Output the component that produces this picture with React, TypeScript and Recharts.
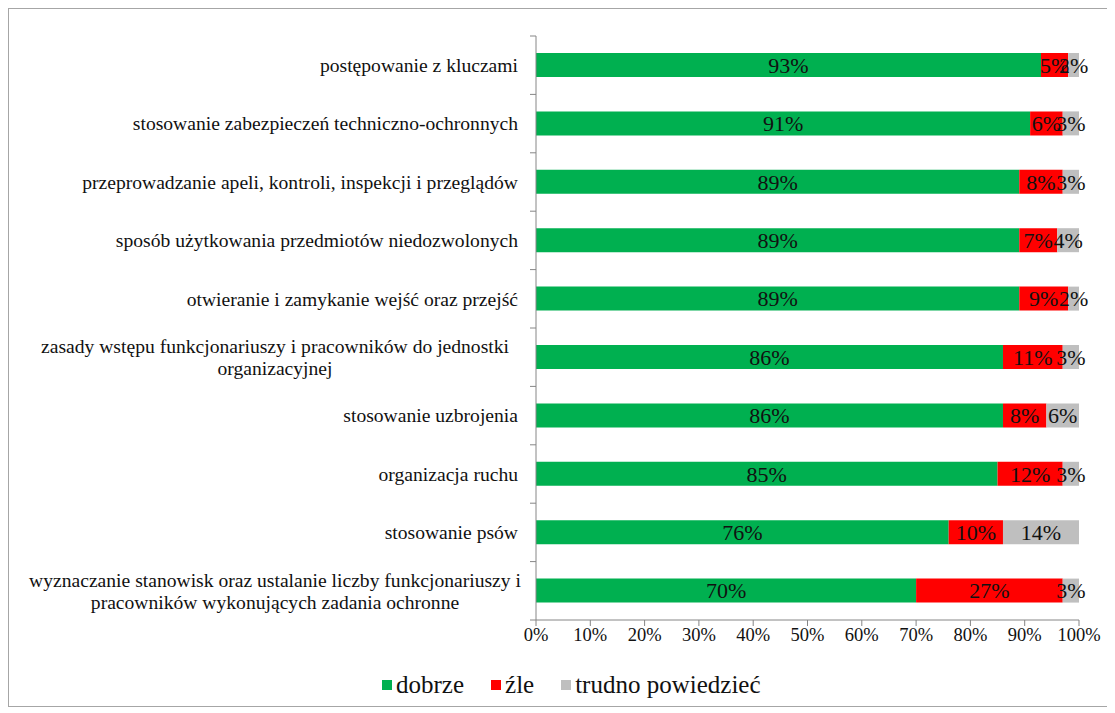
import { BarChart, Bar, XAxis, YAxis, Legend, LabelList } from "recharts";

// categories top -> bottom, multi-line labels split on "\n"
const categories = [
  "postępowanie z kluczami",
  "stosowanie zabezpieczeń techniczno-ochronnych",
  "przeprowadzanie apeli, kontroli, inspekcji i przeglądów",
  "sposób użytkowania przedmiotów niedozwolonych",
  "otwieranie i zamykanie wejść oraz przejść",
  "zasady wstępu funkcjonariuszy i pracowników do jednostki\norganizacyjnej",
  "stosowanie uzbrojenia",
  "organizacja ruchu",
  "stosowanie psów",
  "wyznaczanie stanowisk oraz ustalanie liczby funkcjonariuszy i\npracowników wykonujących zadania ochronne",
];

const dobrze = [93, 91, 89, 89, 89, 86, 86, 85, 76, 70];
const zle = [5, 6, 8, 7, 9, 11, 8, 12, 10, 27];
const trudno = [2, 3, 3, 4, 2, 3, 6, 3, 14, 3];

const seriesNames = ["dobrze", "źle", "trudno powiedzieć"];
const seriesKeys = ["dobrze", "zle", "trudno"];
const colors = ["#00B050", "#FF0000", "#BFBFBF"];

const xTicks = [0, 10, 20, 30, 40, 50, 60, 70, 80, 90, 100];

const data = categories.map((name, i) => ({
  name,
  dobrze: dobrze[i],
  zle: zle[i],
  trudno: trudno[i],
}));

const FONT = "Liberation Serif";
const AXIS = "#868686";
const W = 1100;
const H = 697;
const MARGIN = { top: 27, right: 30, left: 0, bottom: 7 };
const X_AXIS_H = 51;
const LEGEND_H = 28;
const PLOT_H = H - MARGIN.top - MARGIN.bottom - X_AXIS_H - LEGEND_H;
const BAND = PLOT_H / categories.length;
const CAT_FS = 19.6;

/* eslint-disable @typescript-eslint/no-explicit-any */
function CategoryTick({ x, y, payload, index }: any) {
  const lines: string[] = String(payload.value).split("\n");
  const axisX = x + 18;
  const multi = lines.length > 1;
  const lh = 22;
  const tx = multi ? x - 243 : x;
  return (
    <g>
      <line x1={axisX - 6} x2={axisX} y1={y - BAND / 2} y2={y - BAND / 2} stroke={AXIS} />
      {index === categories.length - 1 && (
        <line x1={axisX - 6} x2={axisX} y1={y + BAND / 2} y2={y + BAND / 2} stroke={AXIS} />
      )}
      <text
        x={tx}
        y={y}
        textAnchor={multi ? "middle" : "end"}
        fontSize={CAT_FS}
        fill="#111"
        style={{ fontFamily: FONT }}
      >
        {lines.map((l, i) => (
          <tspan
            key={i}
            x={tx}
            dy={i === 0 ? `${0.35 - ((lines.length - 1) * lh) / 2 / CAT_FS}em` : lh}
          >
            {l}
          </tspan>
        ))}
      </text>
    </g>
  );
}

function LegendContent() {
  return (
    <div
      style={{
        display: "flex",
        alignItems: "center",
        height: LEGEND_H,
        fontFamily: FONT,
        fontSize: 25,
        color: "#111",
      }}
    >
      {seriesNames.map((n, i) => (
        <span key={n} style={{ display: "flex", alignItems: "center", marginRight: 27 }}>
          <span style={{ width: 10, height: 10, background: colors[i], marginRight: 4 }} />
          {n}
        </span>
      ))}
    </div>
  );
}

export default function App() {
  return (
    <div style={{ width: W, height: H, border: "1px solid #a6a6a6", background: "#fff" }}>
      <BarChart
        width={W}
        height={H}
        data={data}
        layout="vertical"
        margin={MARGIN}
        style={{ fontFamily: FONT }}
      >
        <XAxis
          type="number"
          domain={[0, 100]}
          ticks={xTicks}
          tickFormatter={(v: number) => `${v}%`}
          stroke={AXIS}
          tick={{ fill: "#111", fontSize: 18.5, fontFamily: FONT }}
          tickSize={6}
          height={X_AXIS_H}
          interval={0}
        />
        <YAxis
          type="category"
          dataKey="name"
          width={527}
          stroke={AXIS}
          tickLine={false}
          tickSize={6}
          tickMargin={12}
          interval={0}
          tick={<CategoryTick />}
        />
        <Legend
          verticalAlign="bottom"
          align="left"
          height={LEGEND_H}
          width={440}
          wrapperStyle={{ left: 373 }}
          content={<LegendContent />}
        />
        {seriesKeys.map((k, i) => (
          <Bar
            key={k}
            dataKey={k}
            name={seriesNames[i]}
            stackId="a"
            fill={colors[i]}
            barSize={24}
            isAnimationActive={false}
          >
            <LabelList
              dataKey={k}
              position="center"
              formatter={(v: any) => `${v}%`}
              fill="#111"
              fontSize={22}
              fontFamily={FONT}
            />
          </Bar>
        ))}
      </BarChart>
    </div>
  );
}
